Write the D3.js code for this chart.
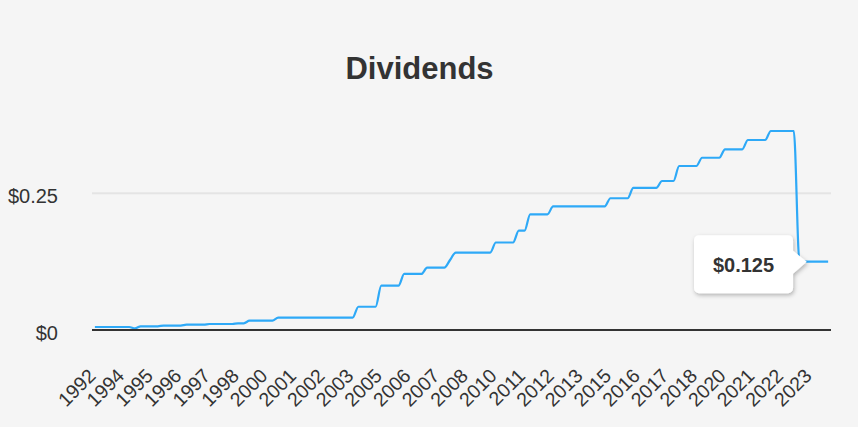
<!DOCTYPE html>
<html>
<head>
<meta charset="utf-8">
<script src="https://cdn.jsdelivr.net/npm/d3@7/dist/d3.min.js"></script>
<style>
  html, body { margin: 0; padding: 0; background: #f5f5f5; }
  svg { display: block; font-family: "Liberation Sans", Arial, sans-serif; }
</style>
</head>
<body>
<svg id="chart" width="858" height="427"></svg>
<script>
// Quarterly dividend values (USD)
const dividends = [
  0.0055, 0.0055, 0.0055, 0.0055, 0.0055, 0.0055, 0.0055,
  0.003,
  0.0068, 0.0068, 0.0068, 0.0068,
  0.008, 0.008, 0.008, 0.008,
  0.0097, 0.0097, 0.0097, 0.0097,
  0.011, 0.011, 0.011, 0.011, 0.011,
  0.0123, 0.0123,
  0.017, 0.017, 0.017, 0.017, 0.017,
  0.0225, 0.0225, 0.0225, 0.0225, 0.0225, 0.0225, 0.0225, 0.0225, 0.0225, 0.0225, 0.0225, 0.0225, 0.0225, 0.0225,
  0.0425, 0.0425, 0.0425, 0.0425,
  0.081, 0.081, 0.081, 0.081,
  0.1025, 0.1025, 0.1025, 0.1025,
  0.114, 0.114, 0.114, 0.114,
  0.128,
  0.1417, 0.1417, 0.1417, 0.1417, 0.1417, 0.1417, 0.1417,
  0.16, 0.16, 0.16, 0.16,
  0.1816, 0.1816,
  0.2116, 0.2116, 0.2116, 0.2116,
  0.226, 0.226, 0.226, 0.226, 0.226, 0.226, 0.226, 0.226, 0.226, 0.226,
  0.241, 0.241, 0.241, 0.241,
  0.26, 0.26, 0.26, 0.26, 0.26,
  0.2725, 0.2725, 0.2725,
  0.30, 0.30, 0.30, 0.30,
  0.315, 0.315, 0.315, 0.315,
  0.3305, 0.3305, 0.3305, 0.3305,
  0.3475, 0.3475, 0.3475, 0.3475,
  0.364, 0.364, 0.364, 0.364, 0.364,
  0.125, 0.125, 0.125, 0.125, 0.125, 0.125
];

// Year labels shown on every 5th category
const yearLabels = ["1992","1994","1995","1996","1997","1998","2000","2001","2002","2003",
  "2005","2006","2007","2008","2010","2011","2012","2013","2015","2016",
  "2017","2018","2020","2021","2022","2023"];
const labelEvery = 5;

const yTicks = [0, 0.25];
const yTickLabels = ["$0", "$0.25"];

const titleText = "Dividends";
const tooltipIndex = 124;
const tooltipText = "$0.125";

const svg = d3.select("#chart");
const W = 858, H = 427;
const plot = { left: 92, right: 831, top: 111.3, bottom: 330 };

svg.append("rect").attr("width", W).attr("height", H).attr("fill", "#f5f5f5");

const x = d3.scalePoint()
  .domain(d3.range(dividends.length))
  .range([plot.left, plot.right])
  .padding(0.5);

const y = d3.scaleLinear()
  .domain([0, 0.4])
  .range([plot.bottom, plot.top]);

// Title
svg.append("text")
  .attr("x", 419.5).attr("y", 78.5)
  .attr("text-anchor", "middle")
  .attr("font-size", 31).attr("font-weight", "bold")
  .attr("fill", "#333")
  .text(titleText);

// Gridlines (non-zero)
svg.append("g").selectAll("line")
  .data(yTicks.filter(d => d !== 0))
  .join("line")
  .attr("x1", plot.left).attr("x2", plot.right)
  .attr("y1", d => y(d)).attr("y2", d => y(d))
  .attr("stroke", "#e4e4e4").attr("stroke-width", 2);

// Y labels
svg.append("g").selectAll("text")
  .data(yTicks)
  .join("text")
  .attr("x", 58)
  .attr("y", d => y(d) + 10)
  .attr("text-anchor", "end")
  .attr("font-size", 20)
  .attr("fill", "#333")
  .text((d, i) => yTickLabels[i]);

// X labels
const labelIdx = yearLabels.map((_, k) => k * labelEvery);
svg.append("g").selectAll("text")
  .data(labelIdx)
  .join("text")
  .attr("transform", d => `translate(${x(d) + 2},377) rotate(-45)`)
  .attr("text-anchor", "end")
  .attr("font-size", 19.5)
  .attr("fill", "#333")
  .text((d, k) => yearLabels[k]);

// Line
const line = d3.line()
  .x((d, i) => x(i))
  .y(d => y(d))
  .curve(d3.curveMonotoneX);

svg.append("path")
  .datum(dividends)
  .attr("d", line)
  .attr("fill", "none")
  .attr("stroke", "#2ea9f7")
  .attr("stroke-width", 2.2)
  .attr("stroke-linejoin", "round");

// Baseline
svg.append("line")
  .attr("x1", plot.left).attr("x2", plot.right)
  .attr("y1", y(0)).attr("y2", y(0))
  .attr("stroke", "#333").attr("stroke-width", 2);

// Tooltip
const defs = svg.append("defs");
const f = defs.append("filter").attr("id", "shadow")
  .attr("x", "-20%").attr("y", "-20%").attr("width", "150%").attr("height", "160%");
f.append("feDropShadow").attr("dx", 1).attr("dy", 2)
  .attr("stdDeviation", 2.2).attr("flood-color", "#000").attr("flood-opacity", 0.28);

const tipX = x(tooltipIndex) + 1.5;
const tipY = y(dividends[tooltipIndex]);
const bw = 99, bh = 58, r = 5;
const bx1 = tipX - 13.7, bx0 = bx1 - bw;
const by0 = tipY + 2.5 - bh / 2, by1 = by0 + bh;
const pTop = tipY - 11, pBot = tipY + 12;
const p = d3.path();
p.moveTo(bx0 + r, by0);
p.lineTo(bx1 - r, by0);
p.arcTo(bx1, by0, bx1, by0 + r, r);
p.lineTo(bx1, pTop);
p.lineTo(tipX, tipY);
p.lineTo(bx1, pBot);
p.lineTo(bx1, by1 - r);
p.arcTo(bx1, by1, bx1 - r, by1, r);
p.lineTo(bx0 + r, by1);
p.arcTo(bx0, by1, bx0, by1 - r, r);
p.lineTo(bx0, by0 + r);
p.arcTo(bx0, by0, bx0 + r, by0, r);
p.closePath();

svg.append("path")
  .attr("d", p.toString())
  .attr("fill", "#fff")
  .attr("filter", "url(#shadow)");

svg.append("text")
  .attr("x", (bx0 + bx1) / 2)
  .attr("y", by0 + bh / 2 + 7.5)
  .attr("text-anchor", "middle")
  .attr("font-size", 20).attr("font-weight", "bold")
  .attr("fill", "#333")
  .text(tooltipText);
</script>
</body>
</html>
